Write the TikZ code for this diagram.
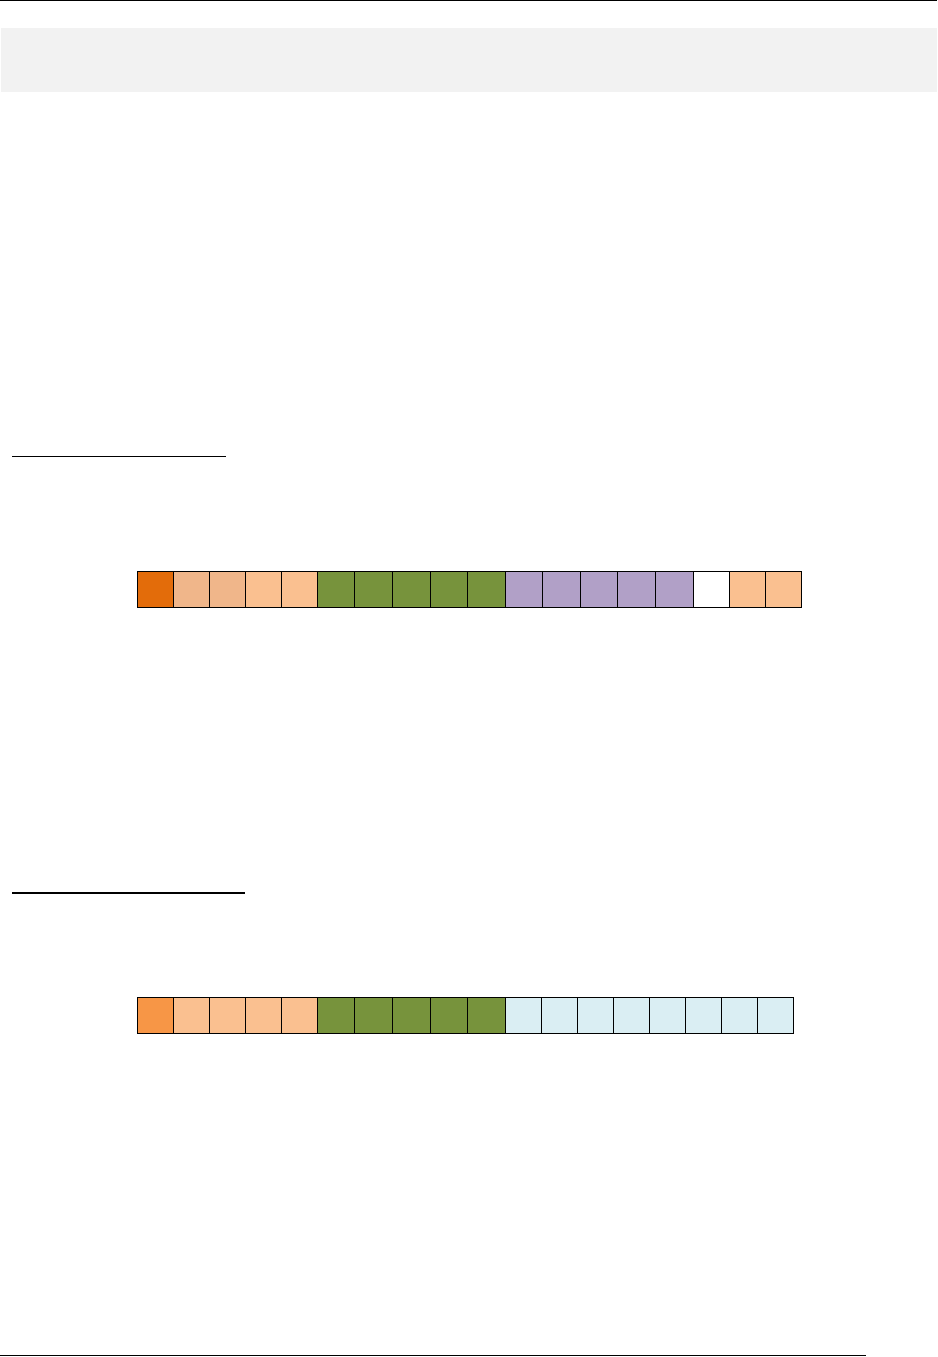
\documentclass[tikz,border=0pt]{standalone}
\definecolor{band}{HTML}{F2F2F2}
\definecolor{darkor}{HTML}{E36C0A}
\definecolor{tanor}{HTML}{F0B68A}
\definecolor{lightor}{HTML}{FAC090}
\definecolor{midor}{HTML}{F79646}
\definecolor{olive}{HTML}{77933C}
\definecolor{lav}{HTML}{B1A0C7}
\definecolor{paleblue}{HTML}{DAEEF3}
\tikzset{cell/.style={draw=black,line width=0.9pt}}
\begin{document}
\begin{tikzpicture}[x=1pt,y=-1pt]
\useasboundingbox (0,0) rectangle (937,1357);
% header rule and grey band
\draw[line width=1.4pt] (0,0.7) -- (937,0.7);
\fill[band] (1,28) rectangle (937,92);
% underlined empty headings
\draw[line width=1.7pt] (12,456.5) -- (226,456.5);
\draw[line width=1.8pt] (12,892.7) -- (245,892.7);
% row 1
\foreach \a/\b/\c in {137.3/173.3/darkor,173.3/209.3/tanor,209.3/245.3/tanor,245.3/281.7/lightor,281.7/317.3/lightor,
  317.3/354.3/olive,354.3/392.3/olive,392.3/430.3/olive,430.3/467.7/olive,467.7/505.5/olive,
  505.5/542.3/lav,542.3/580.3/lav,580.3/617/lav,617/655.3/lav,655.3/693.3/lav,
  693.3/729.3/white,729.3/765.3/lightor,765.3/801.3/lightor}
  \draw[cell,fill=\c] (\a,571.3) rectangle (\b,607);
% row 2
\foreach \a/\b/\c in {137.3/173.3/midor,173.3/209.3/lightor,209.3/245.3/lightor,245.3/281.7/lightor,281.7/317.3/lightor,
  317.3/354.3/olive,354.3/392.3/olive,392.3/430.3/olive,430.3/467.7/olive,467.7/505.5/olive,
  505.5/541.3/paleblue,541.3/577.3/paleblue,577.3/613.3/paleblue,613.3/649.7/paleblue,649.7/685.3/paleblue,
  685.3/721.3/paleblue,721.3/757.3/paleblue,757.3/793.3/paleblue}
  \draw[cell,fill=\c] (\a,997.3) rectangle (\b,1033);
% footer rule
\draw[line width=1.2pt] (0,1355.5) -- (866,1355.5);
\end{tikzpicture}
\end{document}
